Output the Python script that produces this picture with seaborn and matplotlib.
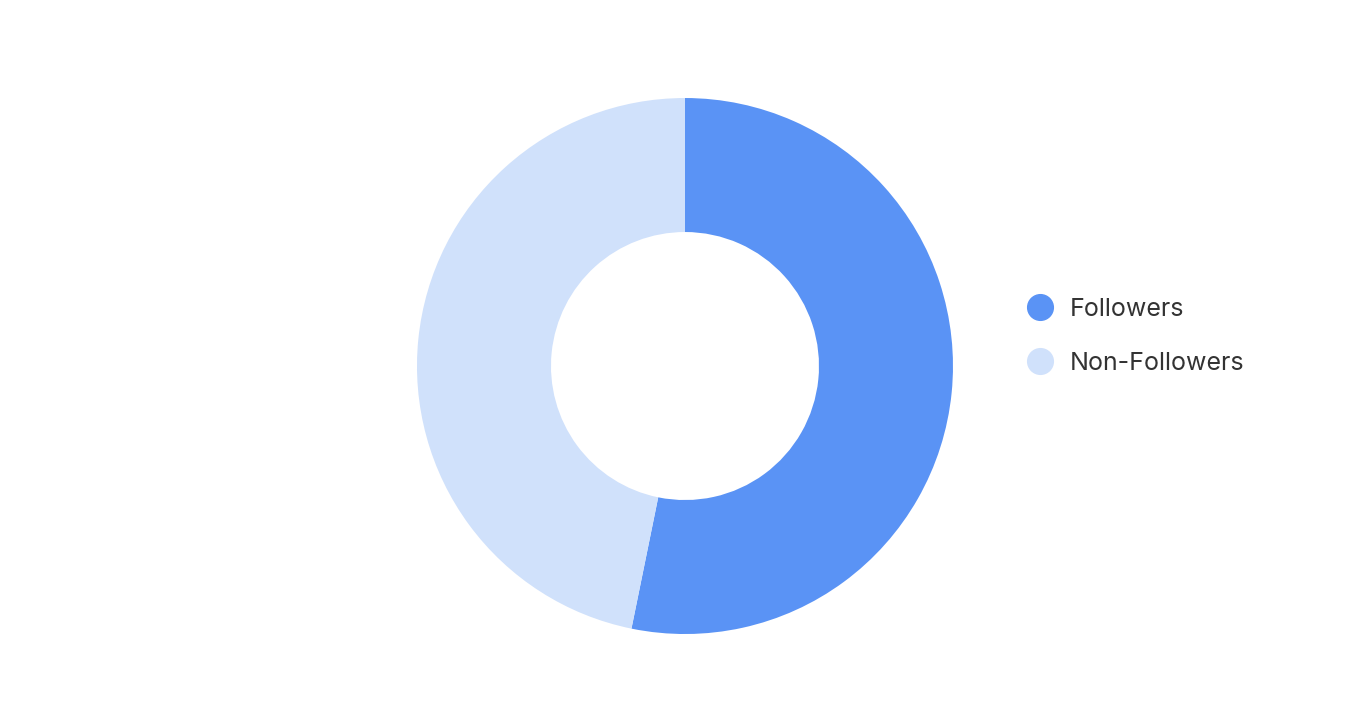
import matplotlib
matplotlib.use("Agg")
import matplotlib.pyplot as plt
from matplotlib.lines import Line2D
import seaborn as sns

# data
labels = ["Followers", "Non-Followers"]
shares = [53.2, 46.8]
colors = ["#5A93F5", "#D0E1FB"]

sns.set_theme(style="white")
plt.rcParams["font.family"] = ["Inter", "DejaVu Sans"]

fig = plt.figure(figsize=(13.56, 7.16), dpi=100)
fig.patch.set_facecolor("white")

# donut axes: centre ~(685, 366) px, outer radius ~268 px
ax = fig.add_axes([0.3075, 0.1145, 0.3953, 0.7486])
ax.pie(shares, colors=colors, startangle=90, counterclock=False,
       wedgeprops=dict(width=0.5, linewidth=0))
ax.set_xlim(-1, 1)
ax.set_ylim(-1, 1)
ax.set_aspect("equal")
ax.axis("off")

handles = [Line2D([0], [0], marker="o", linestyle="none", markersize=18.5,
                  markerfacecolor=c, markeredgecolor=c) for c in colors]
leg = fig.legend(handles, labels, loc="center left",
                 bbox_to_anchor=(0.7577, 0.5305), frameon=False,
                 borderpad=0, borderaxespad=0, handlelength=1.0,
                 handletextpad=0.7, labelspacing=1.25, fontsize=18)
for t in leg.get_texts():
    t.set_color("#333333")

fig.savefig("out.png", dpi=100, facecolor="white")
